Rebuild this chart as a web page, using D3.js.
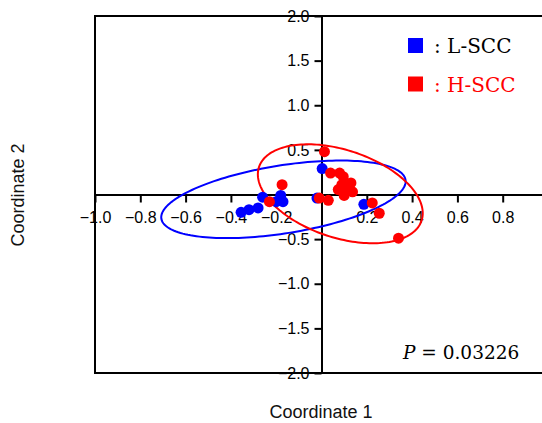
<!DOCTYPE html>
<html>
<head>
<meta charset="utf-8">
<script src="https://cdn.jsdelivr.net/npm/d3@7"></script>
<style>
  body { margin: 0; background: #fff; }
  svg { display: block; }
</style>
</head>
<body>
<div id="chart"></div>
<script>
// coordinates (Coordinate 1, Coordinate 2)
const lowX  = [0.003, -0.18, -0.17, -0.20, -0.26, -0.28, -0.32, -0.355, -0.02, 0.187];
const lowY  = [0.29, -0.01, -0.08, -0.08, -0.03, -0.15, -0.17, -0.20, -0.04, -0.11];
const highX = [0.013, 0.04, 0.08, 0.096, 0.13, 0.09, 0.074, 0.113, 0.137, 0.10, -0.01, 0.03, -0.174, -0.23, 0.224, 0.255, 0.34];
const highY = [0.48, 0.24, 0.24, 0.20, 0.13, 0.11, 0.055, 0.066, 0.03, -0.01, -0.04, -0.065, 0.11, -0.08, -0.095, -0.21, -0.49];

// ellipses: centre and the two half-axis vectors, in data units
const lowEllipse  = [[-0.168, -0.054], [0.539, 0.218], [0.024, -0.376]];
const highEllipse = [[0.083, 0.008], [0.359, -0.299], [-0.060, -0.467]];

const xTicks = [-1.0, -0.8, -0.6, -0.4, -0.2, 0.2, 0.4, 0.6, 0.8];
const yTicks = [-2.0, -1.5, -1.0, -0.5, 0.5, 1.0, 1.5, 2.0];
const legendNames = ["L-SCC", "H-SCC"];
const pText = "0.03226";

const W = 542, H = 423;
const x = d3.scaleLinear().domain([-1, 1]).range([95, 548]);
const y = d3.scaleLinear().domain([-2, 2]).range([373, 16]);

const svg = d3.select("#chart").append("svg").attr("width", W).attr("height", H);

// frame
svg.append("rect")
  .attr("x", x(-1)).attr("y", y(2))
  .attr("width", x(1) - x(-1) + 10).attr("height", y(-2) - y(2))
  .attr("fill", "none").attr("stroke", "#000").attr("stroke-width", 2);

// axes through the origin
const xAxis = d3.axisBottom(x).tickValues(xTicks).tickFormat(d3.format(".1f"))
  .tickSize(8).tickSizeOuter(0).tickPadding(9);
const yAxis = d3.axisLeft(y).tickValues(yTicks).tickFormat(d3.format(".1f"))
  .tickSize(7).tickSizeOuter(0).tickPadding(5);

const gx = svg.append("g").attr("transform", `translate(0,${y(0)})`).call(xAxis);
const gy = svg.append("g").attr("transform", `translate(${x(0)},0)`).call(yAxis);
[gx, gy].forEach(g => {
  g.selectAll("path, line").attr("stroke", "#000").attr("stroke-width", 2);
  g.selectAll("text").attr("fill", "#000")
    .style("font-family", "'Liberation Sans', Arial, sans-serif").style("font-size", "16px");
});

// ellipses
const line = d3.line().x(d => x(d[0])).y(d => y(d[1])).curve(d3.curveLinearClosed);
function ellipsePoints(e) {
  return d3.range(0, 360, 2).map(a => {
    const t = a * Math.PI / 180;
    return [e[0][0] + e[1][0] * Math.cos(t) + e[2][0] * Math.sin(t),
            e[0][1] + e[1][1] * Math.cos(t) + e[2][1] * Math.sin(t)];
  });
}
svg.append("path").attr("d", line(ellipsePoints(lowEllipse)))
  .attr("fill", "none").attr("stroke", "#0000ff").attr("stroke-width", 2);
svg.append("path").attr("d", line(ellipsePoints(highEllipse)))
  .attr("fill", "none").attr("stroke", "#ff0000").attr("stroke-width", 2);

// points
svg.append("g").selectAll("circle").data(d3.zip(lowX, lowY)).join("circle")
  .attr("cx", d => x(d[0])).attr("cy", d => y(d[1])).attr("r", 5.5).attr("fill", "#0000ff");
svg.append("g").selectAll("circle").data(d3.zip(highX, highY)).join("circle")
  .attr("cx", d => x(d[0])).attr("cy", d => y(d[1])).attr("r", 5.5).attr("fill", "#ff0000");

// legend
const legColors = ["#0000ff", "#ff0000"];
const legText = ["#000", "#ff0000"];
legendNames.forEach((n, i) => {
  const ly = 38 + i * 38.5;
  svg.append("rect").attr("x", 408).attr("y", ly).attr("width", 15).attr("height", 15).attr("fill", legColors[i]);
  svg.append("text").attr("x", 434).attr("y", ly + 15)
    .attr("fill", legText[i])
    .style("font-family", "'DejaVu Serif', serif").style("font-size", "20px")
    .text(": " + n);
});

// p value
const pt = svg.append("text").attr("x", 403).attr("y", 359)
  .style("font-family", "'DejaVu Serif', serif").style("font-size", "18.5px").attr("fill", "#000");
pt.append("tspan").style("font-style", "italic").text("P");
pt.append("tspan").text(" = " + pText);

// axis titles
svg.append("text").attr("x", 321).attr("y", 418).attr("text-anchor", "middle")
  .style("font-family", "'Liberation Sans', Arial, sans-serif").style("font-size", "18px")
  .attr("fill", "#111").text("Coordinate 1");
svg.append("text").attr("transform", "translate(23.5,195) rotate(-90)").attr("text-anchor", "middle")
  .style("font-family", "'Liberation Sans', Arial, sans-serif").style("font-size", "18px")
  .attr("fill", "#111").text("Coordinate 2");
</script>
</body>
</html>
